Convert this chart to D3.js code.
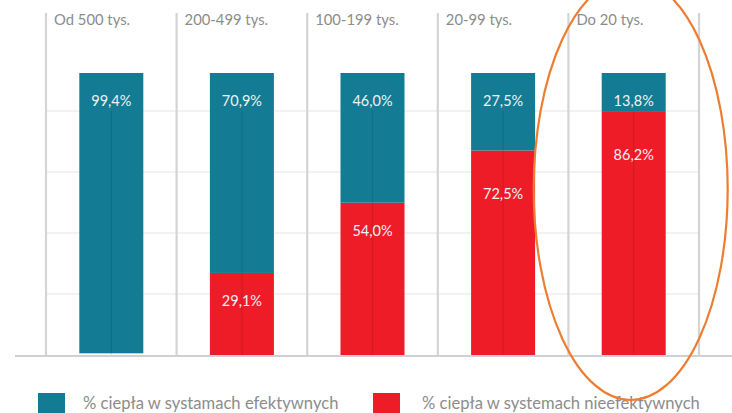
<!DOCTYPE html>
<html>
<head>
<meta charset="utf-8">
<script src="https://cdn.jsdelivr.net/npm/d3@7"></script>
<style>
  body { margin: 0; background: #fff; }
  svg { display: block; font-family: Lato, "Open Sans", sans-serif; }
</style>
</head>
<body>
<div id="chart"></div>
<script>
// data
var categories = ["Od 500 tys.", "200-499 tys.", "100-199 tys.", "20-99 tys.", "Do 20 tys."];
var efektywne = [99.4, 70.9, 46.0, 27.5, 13.8];
var nieefektywne = [0.6, 29.1, 54.0, 72.5, 86.2];
var seriesNames = ["% ciepła w systamach efektywnych", "% ciepła w systemach nieefektywnych"];
var gridTicks = [0, 1, 2, 3, 4];

var width = 732, height = 413,
    margin = {top: 13, right: 33, bottom: 58, left: 46};

var svg = d3.select("#chart").append("svg")
    .attr("width", width)
    .attr("height", height);

var x = d3.scaleBand()
    .domain(categories)
    .range([margin.left, width - margin.right])
    .padding(0);

var y = d3.scaleLinear()
    .domain([0, 100])
    .range([height - margin.bottom, 73]);

// gridlines are not tied to the value scale in the original
var gy = d3.scaleLinear()
    .domain([0, 4])
    .range([height - margin.bottom, 111]);

var color = d3.scaleOrdinal()
    .domain(["efektywne", "nieefektywne"])
    .range(["#137b93", "#ed1c27"]);

var rows = categories.map(function(c, i) {
  return {cat: c, efektywne: efektywne[i], nieefektywne: nieefektywne[i]};
});

var stack = d3.stack().keys(["nieefektywne", "efektywne"]);
var layers = stack(rows);

// title (cut off at the top of the picture)
svg.append("text")
    .attr("x", 24)
    .attr("y", -1)
    .attr("fill", "#b5b5b5")
    .attr("font-size", 21)
    .attr("font-weight", "bold")
    .text("Wielkość miasta");

// horizontal grid
svg.append("g").selectAll("line")
    .data(gridTicks.slice(1))
    .enter().append("line")
    .attr("x1", margin.left)
    .attr("x2", width - margin.right)
    .attr("y1", function(d) { return gy(d); })
    .attr("y2", function(d) { return gy(d); })
    .attr("stroke", "#e6e6e6")
    .attr("stroke-width", 1.2);

// panel separators
var seps = categories.map(function(c) { return x(c); }).concat([x.range()[1]]);
svg.append("g").selectAll("line")
    .data(seps)
    .enter().append("line")
    .attr("x1", function(d) { return d; })
    .attr("x2", function(d) { return d; })
    .attr("y1", margin.top)
    .attr("y2", y(0))
    .attr("stroke", "#d4d4d6")
    .attr("stroke-width", 2.2);

// headers
svg.append("g").selectAll("text")
    .data(categories)
    .enter().append("text")
    .attr("x", function(d) { return x(d) + 8; })
    .attr("y", 25)
    .attr("fill", "#8c8c8c")
    .attr("font-size", 14.8)
    .text(function(d) { return d; });

var barW = 64;

// bars (tiny segments are not visible in the original)
svg.append("g").selectAll("g")
    .data(layers)
    .enter().append("g")
    .attr("fill", function(d) { return color(d.key); })
  .selectAll("rect")
    .data(function(d) { return d.filter(function(s) { return s[1] - s[0] >= 1; }); })
    .enter().append("rect")
    .attr("x", function(d) { return x(d.data.cat) + x.bandwidth() / 2 - barW / 2; })
    .attr("y", function(d) { return y(d[1]); })
    .attr("width", barW)
    .attr("height", function(d) { return y(d[0]) - y(d[1]); });

// center gridline showing through the bars
svg.append("g").selectAll("line")
    .data(categories)
    .enter().append("line")
    .attr("x1", function(d) { return x(d) + x.bandwidth() / 2; })
    .attr("x2", function(d) { return x(d) + x.bandwidth() / 2; })
    .attr("y1", gy(4))
    .attr("y2", y(0))
    .attr("stroke", "rgba(0,0,0,0.1)")
    .attr("stroke-width", 1.2);

// baseline
svg.append("line")
    .attr("x1", 15)
    .attr("x2", width)
    .attr("y1", y(0) + 1)
    .attr("y2", y(0) + 1)
    .attr("stroke", "#d0d0d2")
    .attr("stroke-width", 2);

function fmt(v) { return v.toFixed(1).replace(".", ",") + "%"; }

// value labels
layers.forEach(function(layer) {
  svg.append("g").selectAll("text")
    .data(layer.filter(function(d) { return d[1] - d[0] > 5; }))
    .enter().append("text")
    .attr("x", function(d) { return x(d.data.cat) + x.bandwidth() / 2; })
    .attr("y", function(d) { return y(d[1]) + (d.data.nieefektywne > 60 && layer.key === "nieefektywne" ? 48 : 33); })
    .attr("text-anchor", "middle")
    .attr("fill", "#eef3f5")
    .attr("font-size", 14.5)
    .text(function(d) { return fmt(d[1] - d[0]); });
});

// legend
var legend = svg.append("g").selectAll("g")
    .data(["efektywne", "nieefektywne"])
    .enter().append("g")
    .attr("transform", function(d, i) { return "translate(" + (i === 0 ? 38 : 373) + ",393)"; });

legend.append("rect")
    .attr("width", 27)
    .attr("height", 27)
    .attr("fill", function(d) { return color(d); });

legend.append("text")
    .attr("x", function(d, i) { return i === 0 ? 45 : 49; })
    .attr("y", 15.5)
    .attr("fill", "#8c8c8c")
    .attr("font-size", 16.6)
    .text(function(d, i) { return seriesNames[i]; });

// highlight ellipse
svg.append("ellipse")
    .attr("cx", x("Do 20 tys.") + x.bandwidth() / 2 - 3)
    .attr("cy", 189)
    .attr("rx", 97)
    .attr("ry", 211)
    .attr("fill", "none")
    .attr("stroke", "#ed7d31")
    .attr("stroke-width", 2.2);
</script>
</body>
</html>
